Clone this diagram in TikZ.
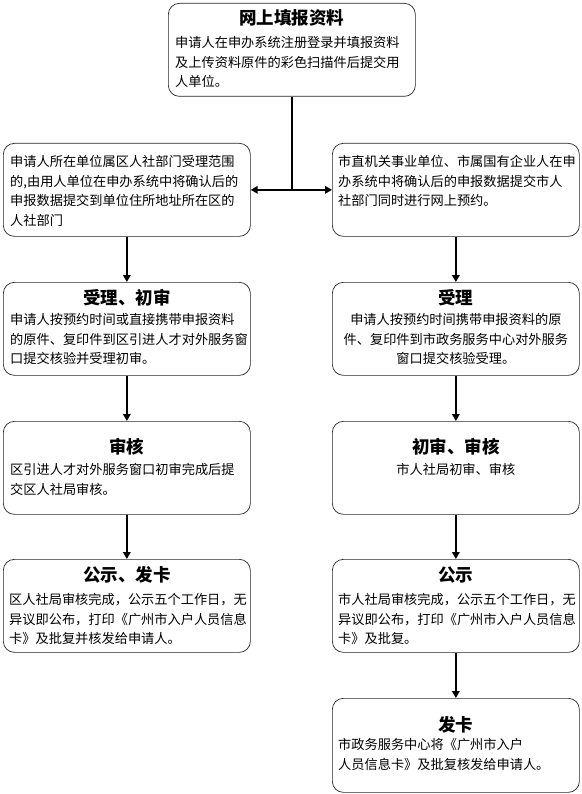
\documentclass[tikz,border=0pt]{standalone}
\usepackage{fontspec}
\newfontfamily\cjk{Noto Sans CJK SC}
\usetikzlibrary{arrows.meta,calc}
\begin{document}
\begin{tikzpicture}[x=1pt,y=1pt,
 box/.style={draw=black!85, line width=0.7pt, rounded corners=11pt, minimum width=247pt, minimum height=93pt, anchor=north west, inner sep=0pt},
 ttl/.style={font=\cjk\bfseries\fontsize{17.5}{19}\selectfont, inner sep=0pt},
 body/.style={font=\cjk\fontsize{13.2}{19.5}\selectfont, inner sep=0pt, align=left, anchor=north west},
 bodyc/.style={font=\cjk\fontsize{13.2}{19.5}\selectfont, inner sep=0pt, align=center, anchor=north},
 arr/.style={line width=2.6pt, -{Triangle[length=7pt,width=7.5pt]}},
 lin/.style={line width=2.6pt}]
\fill[white] (0,0) rectangle (581,-794);
\useasboundingbox (0,0) rectangle (581,-794);

% boxes
\node[box] (top) at (168,-3) {};
\node[box] (l1) at (3,-143) {};
\node[box] (r1) at (332,-143) {};
\node[box] (l2) at (3,-282) {};
\node[box] (r2) at (332,-282) {};
\node[box] (l3) at (3,-421) {};
\node[box] (r3) at (332,-421) {};
\node[box] (l4) at (3,-559) {};
\node[box] (r4) at (332,-559) {};
\node[box, minimum height=94pt] (r5) at (332,-698) {};

% top
\node[ttl] (topt) at ($(top.north)+(0,-15)$) {网上填报资料};
\node[body] (topb) at ($(top.north west)+(7,-33.5)$) {申请人在申办系统注册登录并填报资料\\及上传资料原件的彩色扫描件后提交用\\人单位。};

% row 1
\node[body] (l1b) at ($(l1.north west)+(7,-12.5)$) {申请人所在单位属区人社部门受理范围\\的,由用人单位在申办系统中将确认后的\\申报数据提交到单位住所地址所在区的\\人社部门};
\node[body] (r1b) at ($(r1.north west)+(6,-12.5)$) {市直机关事业单位、市属国有企业人在申\\办系统中将确认后的申报数据提交市人\\社部门同时进行网上预约。};

% row 2
\node[ttl] (l2t) at ($(l2.north)+(0,-16)$) {受理、初审};
\node[body] (l2b) at ($(l2.north west)+(7,-31.5)$) {申请人按预约时间或直接携带申报资料\\的原件、复印件到区引进人才对外服务窗\\口提交核验并受理初审。};
\node[ttl] (r2t) at ($(r2.north)+(0,-16)$) {受理};
\node[bodyc] (r2b) at ($(r2.north)+(0,-31.5)$) {申请人按预约时间携带申报资料的原\\件、复印件到市政务服务中心对外服务\\窗口提交核验受理。};

% row 3
\node[ttl] (l3t) at ($(l3.north)+(0,-26)$) {审核};
\node[body] (l3b) at ($(l3.north west)+(7,-42.5)$) {区引进人才对外服务窗口初审完成后提\\交区人社局审核。};
\node[ttl] (r3t) at ($(r3.north)+(0,-26)$) {初审、审核};
\node[bodyc] (r3b) at ($(r3.north)+(0,-42.5)$) {市人社局初审、审核};

% row 4
\node[ttl] (l4t) at ($(l4.north)+(0,-16)$) {公示、发卡};
\node[body] (l4b) at ($(l4.north west)+(6,-34.5)$) {区人社局审核完成，公示五个工作日，无\\异议即公布，打印《广州市入户人员信息\\卡》及批复并核发给申请人。};
\node[ttl] (r4t) at ($(r4.north)+(0,-16)$) {公示};
\node[body] (r4b) at ($(r4.north west)+(6,-34.5)$) {市人社局审核完成，公示五个工作日，无\\异议即公布，打印《广州市入户人员信息\\卡》及批复。};

% row 5
\node[ttl] (r5t) at ($(r5.north)+(0,-27)$) {发卡};
\node[body] (r5b) at ($(r5.north west)+(6,-40.5)$) {市政务服务中心将《广州市入户\\人员信息卡》及批复核发给申请人。};

% connectors
\coordinate (j) at (top.south |- l1.east);
\draw[lin] (top.south) -- (j);
\draw[arr] (j) -- (l1.east);
\draw[arr] (j) -- (r1.west);
\draw[arr] (l1) -- (l2);
\draw[arr] (l2) -- (l3);
\draw[arr] (l3) -- (l4);
\draw[arr] (r1) -- (r2);
\draw[arr] (r2) -- (r3);
\draw[arr] (r3) -- (r4);
\draw[arr] (r4) -- (r5);
\end{tikzpicture}
\end{document}
